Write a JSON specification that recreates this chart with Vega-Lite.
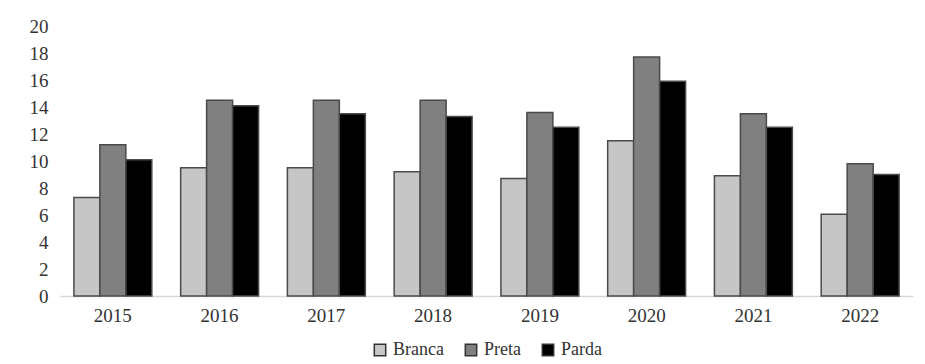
{
  "$schema": "https://vega.github.io/schema/vega-lite/v6.json",
  "autosize": "none",
  "width": 853,
  "height": 270,
  "padding": {"left": 60, "top": 26, "right": 12, "bottom": 68},
  "background": "white",
  "config": {
    "font": "Liberation Serif",
    "view": {"stroke": null},
    "legend": {"layout": {"bottom": {"anchor": "middle"}}}
  },
  "data": {
    "values": [
      {"ano": "2015", "grupo": "Branca", "valor": 7.3},
      {"ano": "2015", "grupo": "Preta", "valor": 11.2},
      {"ano": "2015", "grupo": "Parda", "valor": 10.1},
      {"ano": "2016", "grupo": "Branca", "valor": 9.5},
      {"ano": "2016", "grupo": "Preta", "valor": 14.5},
      {"ano": "2016", "grupo": "Parda", "valor": 14.1},
      {"ano": "2017", "grupo": "Branca", "valor": 9.5},
      {"ano": "2017", "grupo": "Preta", "valor": 14.5},
      {"ano": "2017", "grupo": "Parda", "valor": 13.5},
      {"ano": "2018", "grupo": "Branca", "valor": 9.2},
      {"ano": "2018", "grupo": "Preta", "valor": 14.5},
      {"ano": "2018", "grupo": "Parda", "valor": 13.3},
      {"ano": "2019", "grupo": "Branca", "valor": 8.7},
      {"ano": "2019", "grupo": "Preta", "valor": 13.6},
      {"ano": "2019", "grupo": "Parda", "valor": 12.5},
      {"ano": "2020", "grupo": "Branca", "valor": 11.5},
      {"ano": "2020", "grupo": "Preta", "valor": 17.7},
      {"ano": "2020", "grupo": "Parda", "valor": 15.9},
      {"ano": "2021", "grupo": "Branca", "valor": 8.9},
      {"ano": "2021", "grupo": "Preta", "valor": 13.5},
      {"ano": "2021", "grupo": "Parda", "valor": 12.5},
      {"ano": "2022", "grupo": "Branca", "valor": 6.05},
      {"ano": "2022", "grupo": "Preta", "valor": 9.8},
      {"ano": "2022", "grupo": "Parda", "valor": 9.0}
    ]
  },
  "mark": {"type": "bar", "stroke": "#4a4a4a", "strokeWidth": 1.5},
  "encoding": {
    "x": {
      "field": "ano",
      "type": "nominal",
      "scale": {"paddingInner": 0.27, "paddingOuter": 0.13},
      "axis": {
        "title": null,
        "labelAngle": 0,
        "labelFont": "Liberation Serif",
        "labelFontSize": 19,
        "labelColor": "#333",
        "labelPadding": 10,
        "ticks": false,
        "domainColor": "#d8d8d8",
        "domainWidth": 1.5
      }
    },
    "xOffset": {
      "field": "grupo",
      "type": "nominal",
      "sort": ["Branca", "Preta", "Parda"],
      "scale": {"paddingInner": 0, "paddingOuter": 0}
    },
    "y": {
      "field": "valor",
      "type": "quantitative",
      "scale": {"domain": [0, 20], "nice": false},
      "axis": {
        "title": null,
        "values": [0, 2, 4, 6, 8, 10, 12, 14, 16, 18, 20],
        "grid": false,
        "domain": false,
        "ticks": false,
        "labelFont": "Liberation Serif",
        "labelFontSize": 19,
        "labelColor": "#333",
        "labelPadding": 12
      }
    },
    "color": {
      "field": "grupo",
      "type": "nominal",
      "sort": ["Branca", "Preta", "Parda"],
      "scale": {"domain": ["Branca", "Preta", "Parda"], "range": ["#c6c6c6", "#808080", "#000000"]},
      "legend": {
        "title": null,
        "orient": "bottom",
        "direction": "horizontal",
        "symbolType": "square",
        "symbolSize": 130,
        "symbolStrokeColor": "#333",
        "symbolStrokeWidth": 1.5,
        "labelFont": "Liberation Serif",
        "labelFontSize": 18,
        "labelColor": "#333",
        "columnPadding": 18,
        "offset": 16
      }
    }
  }
}
